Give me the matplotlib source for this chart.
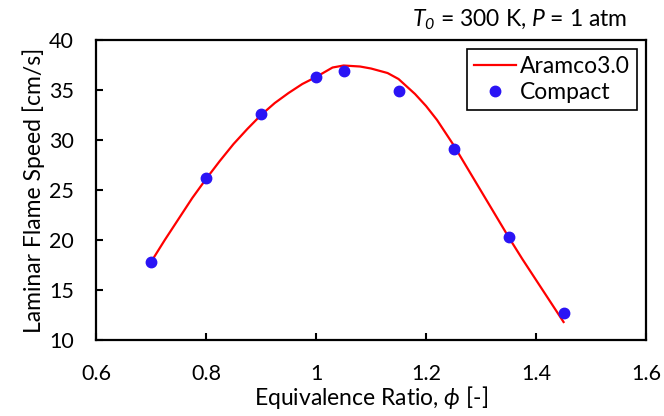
import matplotlib
matplotlib.use("Agg")
import matplotlib.pyplot as plt

# Aramco3.0 reference curve
phi_aramco = [0.70, 0.725, 0.75, 0.775, 0.80, 0.825, 0.85, 0.875, 0.90, 0.925,
              0.95, 0.975, 1.00, 1.03, 1.05, 1.08, 1.10, 1.13, 1.15, 1.18,
              1.20, 1.22, 1.25, 1.275, 1.30, 1.325, 1.35, 1.375, 1.40, 1.425,
              1.45]
sl_aramco = [17.8, 20.0, 22.1, 24.2, 26.1, 27.9, 29.6, 31.1, 32.5, 33.7,
             34.7, 35.6, 36.3, 37.25, 37.45, 37.35, 37.15, 36.7, 36.1, 34.6,
             33.4, 32.0, 29.5, 27.2, 24.9, 22.6, 20.3, 18.1, 16.0, 13.9,
             11.8]

# Compact mechanism points
phi_compact = [0.70, 0.80, 0.90, 1.00, 1.05, 1.15, 1.25, 1.35, 1.45]
sl_compact = [17.8, 26.2, 32.6, 36.3, 36.9, 34.9, 29.1, 20.3, 12.7]

xticks = [0.6, 0.8, 1.0, 1.2, 1.4, 1.6]
xticklabels = ["0.6", "0.8", "1", "1.2", "1.4", "1.6"]
yticks = [10, 15, 20, 25, 30, 35, 40]

plt.rcParams["font.family"] = ["Lato", "DejaVu Sans"]
plt.rcParams["mathtext.fontset"] = "custom"
plt.rcParams["mathtext.rm"] = "Lato"
plt.rcParams["mathtext.it"] = "Lato:italic"
plt.rcParams["mathtext.sf"] = "Lato:italic"
plt.rcParams["mathtext.fallback"] = "stixsans"

fig = plt.figure(figsize=(6.64, 4.16), dpi=100)
ax = fig.add_axes([0.1446, 0.1827, 0.8284, 0.7211])

ax.plot(phi_aramco, sl_aramco, color="red", lw=1.6, label="Aramco3.0")
ax.plot(phi_compact, sl_compact, "o", color="#2a14f5", ms=7.5, label="Compact")

ax.set_xlim(0.6, 1.6)
ax.set_ylim(10, 40)
ax.set_xticks(xticks)
ax.set_xticklabels(xticklabels)
ax.set_yticks(yticks)
ax.tick_params(direction="in", length=5, width=1.5, labelsize=15.5)
ax.tick_params(axis="x", pad=17)
ax.tick_params(axis="y", pad=16)
for s in ax.spines.values():
    s.set_linewidth(1.6)

ax.set_xlabel(r"Equivalence Ratio, $\phi$ [-]", fontsize=16.5, labelpad=0)
ax.set_ylabel("Laminar Flame Speed [cm/s]", fontsize=16.5, labelpad=3)

fig.text(0.944, 0.952, r"$T_{\mathsf{0}}$ = 300 K, $P$ = 1 atm", ha="right",
         va="center", fontsize=16.5)

leg = ax.legend(loc="upper right", fontsize=16.5, fancybox=False, framealpha=1,
                edgecolor="black", handlelength=1.8, handletextpad=0.2,
                borderpad=0.3, labelspacing=0.2, borderaxespad=0.4)
leg.get_frame().set_linewidth(1.2)

fig.savefig("out.png", dpi=100)
